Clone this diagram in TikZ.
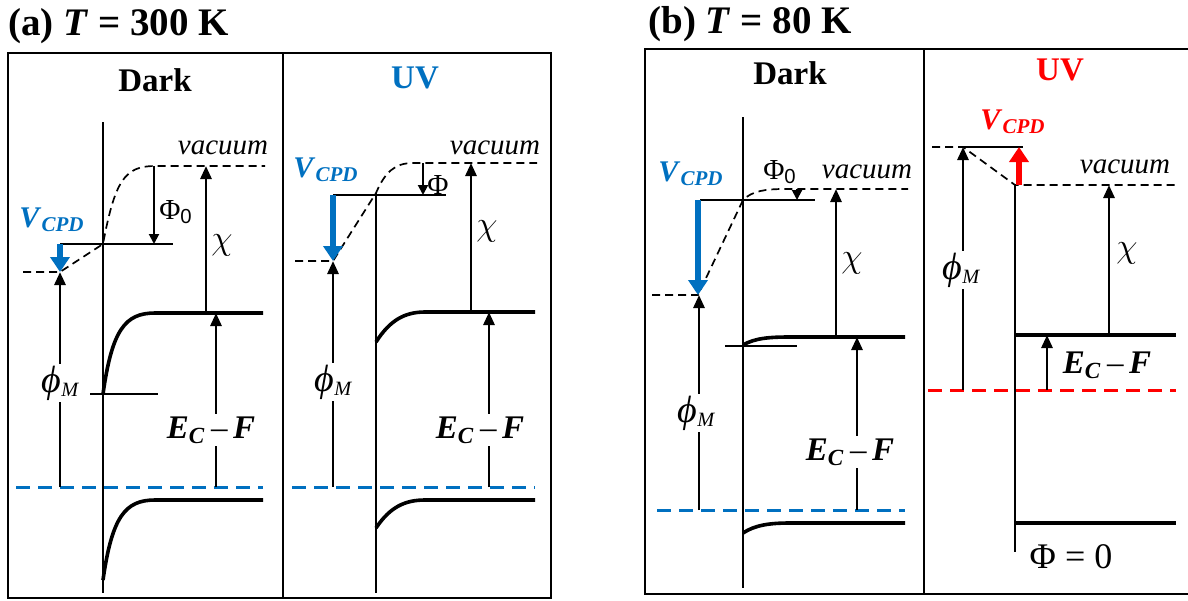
\documentclass[tikz,border=0pt]{standalone}
\usepackage{fontspec}
\setmainfont{Liberation Serif}
\setsansfont{Liberation Sans}
\usepackage{amsmath}
\usetikzlibrary{arrows.meta}
\definecolor{cpdblue}{RGB}{0,112,192}
\definecolor{cpdred}{RGB}{255,0,0}

\newcommand{\Vcpd}{\textbf{\textit{V}\textsubscript{\textit{CPD}}}}
\newcommand{\phiM}{{\fontsize{19}{22}\selectfont\itshape ϕ}\textsubscript{\textit{M}}}
\newcommand{\EcF}{\textbf{\textit{E}\textsubscript{\textit{C}}}\,–\,\textbf{\textit{F}}}
\newcommand{\PhiZ}{Φ\textsubscript{\sffamily 0}}
\newcommand{\chiaff}{{\fontsize{18}{20}\selectfont$\chi$}}

\begin{document}
\begin{tikzpicture}[
  x=0.5pt, y=-0.5pt,
  % frames and levels
  panelbox/.style={line width=1pt},
  iface/.style={line width=0.7pt},
  band/.style={line width=1.8pt},
  refline/.style={line width=0.6pt},
  vaclevel/.style={line width=0.85pt, dash pattern=on 4pt off 2.5pt},
  fermi/.style={line width=1.5pt, dash pattern=on 7pt off 4pt},
  % arrows
  energy/.style={line width=1.4pt, -{Triangle[length=6.5pt,width=5.5pt]}},
  barrier/.style={line width=1pt, -{Triangle[length=5pt,width=5pt]}},
  cpd/.style={line width=3.2pt, -{Triangle[length=7.5pt,width=9.5pt]}},
  % labels
  paneltitle/.style={font=\fontsize{19.5}{23}\selectfont\bfseries,
    anchor=base west, inner sep=0pt},
  cond/.style={font=\fontsize{16.5}{19}\selectfont\bfseries},
  cpdlbl/.style={font=\fontsize{15}{18}\selectfont},
  vac/.style={font=\fontsize{14.5}{17}\selectfont\itshape},
  lbl/.style={font=\fontsize{14.5}{17}\selectfont},
  ecf/.style={font=\fontsize{16.5}{19}\selectfont},
  cut/.style={fill=white, inner sep=1pt}
]

\useasboundingbox (0,0) rectangle (1188,600);

% ─── Frames and titles ──────────────────────────────────────────────────────
\draw[panelbox] (8,53) rectangle (551,598);
\draw[panelbox] (283,53) -- (283,598);
\draw[panelbox] (1188,49) -- (645,49) -- (645,594) -- (1188,594);
\draw[panelbox] (924,49) -- (924,594);

\node[paneltitle] (title_a) at (8,35) {(a) \textit{T} = 300 K};
\node[paneltitle] (title_b) at (648,33) {(b) \textit{T} = 80 K};

\node[cond] (dark_a) at (155,80) {Dark};
\node[cond, text=cpdblue] (uv_a) at (415,78) {UV};
\node[cond] (dark_b) at (790,73) {Dark};
\node[cond, text=cpdred] (uv_b) at (1060,70) {UV};

% ─── (a) Dark ───────────────────────────────────────────────────────────────
\draw[iface] (103,122) -- (103,593);
\draw[vaclevel] (23,272) -- (60,272) -- (103,244)
  .. controls (115,180) and (125,166) .. (155,166) -- (265,166);
\draw[refline] (60,244) -- (173,244);
\draw[refline] (90,394) -- (158,394);
\draw[band] (103,394) .. controls (112,330) and (125,313) .. (155,313) -- (263,313);
\draw[band] (103,580) .. controls (112,517) and (125,500) .. (155,500) -- (263,500);
\draw[fermi, cpdblue] (16,487) -- (263,487);

\draw[energy] (60,487) -- (60,272);
\node[lbl, cut] (phiM_aD) at (61,383) {\phiM};
\draw[energy] (216,487) -- (216,313);
\node[ecf, cut] (ecf_aD) at (211,430) {\EcF};
\draw[energy] (206,313) -- (206,166);
\node[lbl] (chi_aD) at (222,245) {\chiaff};
\draw[barrier] (154,166) -- (154,244);
\node[lbl] (phi0_aD) at (176,212) {\PhiZ};
\draw[cpd, cpdblue] (60,244) -- (60,272);
\node[cpdlbl, text=cpdblue] (vcpd_aD) at (52,220) {\Vcpd};
\node[vac] (vac_aD) at (223,148) {vacuum};

% ─── (a) UV ─────────────────────────────────────────────────────────────────
\draw[iface] (376,193) -- (376,593);
\draw[vaclevel] (295,261) -- (333,261) -- (376,193)
  .. controls (385,172) and (395,163) .. (413,163) -- (537,163);
\draw[refline] (333,195) -- (446,195);
\draw[band] (376,342) .. controls (390,320) and (405,312) .. (425,312) -- (535,312);
\draw[band] (376,528) .. controls (390,507) and (405,500) .. (425,500) -- (535,500);
\draw[fermi, cpdblue] (292,487) -- (535,487);

\draw[energy] (333,487) -- (333,261);
\node[lbl, cut] (phiM_aU) at (334,382) {\phiM};
\draw[energy] (489,487) -- (489,312);
\node[ecf, cut] (ecf_aU) at (480,430) {\EcF};
\draw[energy] (471,312) -- (471,163);
\node[lbl] (chi_aU) at (487,231) {\chiaff};
\draw[barrier] (423,163) -- (423,195);
\node[lbl] (phi_aU) at (438,185) {Φ};
\draw[cpd, cpdblue] (333,195) -- (333,261);
\node[cpdlbl, text=cpdblue] (vcpd_aU) at (326,170) {\Vcpd};
\node[vac] (vac_aU) at (495,148) {vacuum};

% ─── (b) Dark ───────────────────────────────────────────────────────────────
\draw[iface] (743,117) -- (743,588);
\draw[vaclevel] (652,295) -- (698,295) -- (743,200)
  .. controls (752,191) and (765,189) .. (785,189) -- (908,189);
\draw[refline] (700,200) -- (815,200);
\draw[refline] (725,346) -- (797,346);
\draw[band] (743,345) .. controls (755,338) and (770,337) .. (790,337) -- (905,337);
\draw[band] (743,533) .. controls (755,525) and (770,523) .. (790,523) -- (905,523);
\draw[fermi, cpdblue] (657,510) -- (905,510);

\draw[energy] (699,510) -- (699,295);
\node[lbl, cut] (phiM_bD) at (697,413) {\phiM};
\draw[energy] (857,510) -- (857,337);
\node[ecf, cut] (ecf_bD) at (850,452) {\EcF};
\draw[energy] (836,337) -- (836,189);
\node[lbl] (chi_bD) at (852,263) {\chiaff};
\draw[barrier] (797,189) -- (797,200);
\node[lbl] (phi0_bD) at (780,172) {\PhiZ};
\draw[cpd, cpdblue] (698,200) -- (698,295);
\node[cpdlbl, text=cpdblue] (vcpd_bD) at (691,174) {\Vcpd};
\node[vac] (vac_bD) at (867,172) {vacuum};

% ─── (b) UV: flat bands ─────────────────────────────────────────────────────
\draw[iface, line width=1pt] (1015,185) -- (1015,552);
\draw[vaclevel] (932,147) -- (963,147) -- (1015,185) -- (1177,185);
\draw[refline] (963,147) -- (1023,147);
\draw[band] (1015,335) -- (1176,335);
\draw[band] (1015,523) -- (1176,523);
\draw[fermi, cpdred] (928,390) -- (1176,390);

\draw[energy] (963,390) -- (963,147);
\node[lbl, cut] (phiM_bU) at (962,270) {\phiM};
\draw[energy] (1047,390) -- (1047,335);
\node[ecf] (ecf_bU) at (1107,365) {\EcF};
\draw[energy] (1109,335) -- (1109,185);
\node[lbl] (chi_bU) at (1127,253) {\chiaff};
\draw[cpd, cpdred] (1019,185) -- (1019,147);
\node[cpdlbl, text=cpdred] (vcpd_bU) at (1013,122) {\Vcpd};
\node[vac] (vac_bU) at (1125,167) {vacuum};
\node[ecf, font=\fontsize{18}{21}\selectfont] (flat_bU) at (1071,557) {Φ = 0};

\end{tikzpicture}
\end{document}
